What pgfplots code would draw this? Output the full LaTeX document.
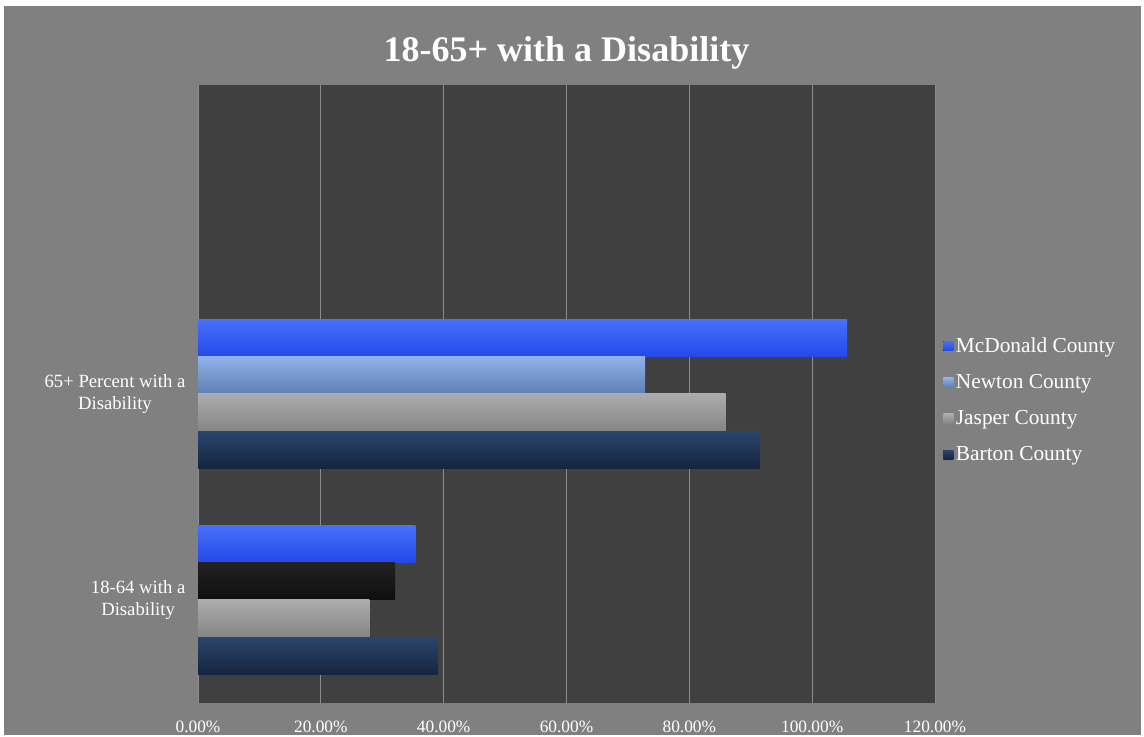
\documentclass[border=0pt]{standalone}
\usepackage{pgfplots}
\pgfplotsset{compat=1.18}
\usepackage{fontspec}
\setmainfont{Liberation Serif}
\definecolor{bg}{HTML}{808080}
\definecolor{plotbg}{HTML}{404040}
\definecolor{gridc}{HTML}{8C8C8C}
\definecolor{mcdT}{HTML}{4670FA}
\definecolor{mcdB}{HTML}{2348E8}
\definecolor{newT}{HTML}{90B2E8}
\definecolor{newB}{HTML}{5F7FB2}
\definecolor{jasT}{HTML}{ACACAC}
\definecolor{jasB}{HTML}{858585}
\definecolor{barT}{HTML}{2A466C}
\definecolor{barB}{HTML}{152540}
\definecolor{blkT}{HTML}{222222}
\definecolor{blkB}{HTML}{0E0E0E}
\begin{document}
\begin{tikzpicture}[x=1pt,y=1pt]
\fill[white] (0,0) rectangle (858,552.75);
\fill[bg] (3,1.5) rectangle (856,548.25);
\begin{axis}[
  at={(148.5pt,25.5pt)}, anchor=south west,
  scale only axis, width=552.75pt, height=463.5pt,
  xmin=0, xmax=120, ymin=-0.5, ymax=2.5,
  axis background/.style={fill=plotbg},
  axis line style={draw=none},
  tick style={draw=none},
  xtick={0,20,40,60,80,100,120},
  xticklabels={0.00\%,20.00\%,40.00\%,60.00\%,80.00\%,100.00\%,120.00\%},
  xticklabel style={font=\fontsize{13}{15}\selectfont, text=white, yshift=-10pt},
  ytick={0,1},
  yticklabels={{18-64 with a\\Disability},{65+ Percent with a\\Disability}},
  yticklabel style={align=center, font=\fontsize{14}{17}\selectfont, text=white, xshift=-6pt},
  xmajorgrids, grid style={color=gridc, line width=0.6pt},
  title={18-65+ with a Disability},
  title style={at={(0.5,1)}, anchor=center, yshift=18pt, font=\fontsize{27}{31}\selectfont\bfseries, text=white},
  legend style={at={(1,0.49)}, anchor=west, xshift=3pt, draw=none, fill=none, text=white,
    font=\fontsize{16}{19}\selectfont, row sep=11pt},
  legend cell align=left,
  legend image code/.code={\fill[#1] (-2pt,-3.5pt) rectangle (5.5pt,3.5pt);},
  every axis plot/.append style={xbar, bar width=0.18, draw=none},
]
% 65+ group (legend entries)
\addplot[bar shift=0.27, top color=mcdT, bottom color=mcdB] coordinates {(105.7,1)};
\addlegendentry{McDonald County}
\addplot[bar shift=0.09, top color=newT, bottom color=newB] coordinates {(72.8,1)};
\addlegendentry{Newton County}
\addplot[bar shift=-0.09, top color=jasT, bottom color=jasB] coordinates {(85.9,1)};
\addlegendentry{Jasper County}
\addplot[bar shift=-0.27, top color=barT, bottom color=barB] coordinates {(91.5,1)};
\addlegendentry{Barton County}
% 18-64 group
\addplot[forget plot, bar shift=0.27, top color=mcdT, bottom color=mcdB] coordinates {(35.4,0)};
\addplot[forget plot, bar shift=0.09, top color=blkT, bottom color=blkB] coordinates {(32.1,0)};
\addplot[forget plot, bar shift=-0.09, top color=jasT, bottom color=jasB] coordinates {(27.9,0)};
\addplot[forget plot, bar shift=-0.27, top color=barT, bottom color=barB] coordinates {(39.0,0)};
\end{axis}
\pgfresetboundingbox
\useasboundingbox (0,0) rectangle (858,552.75);
\end{tikzpicture}
\end{document}
